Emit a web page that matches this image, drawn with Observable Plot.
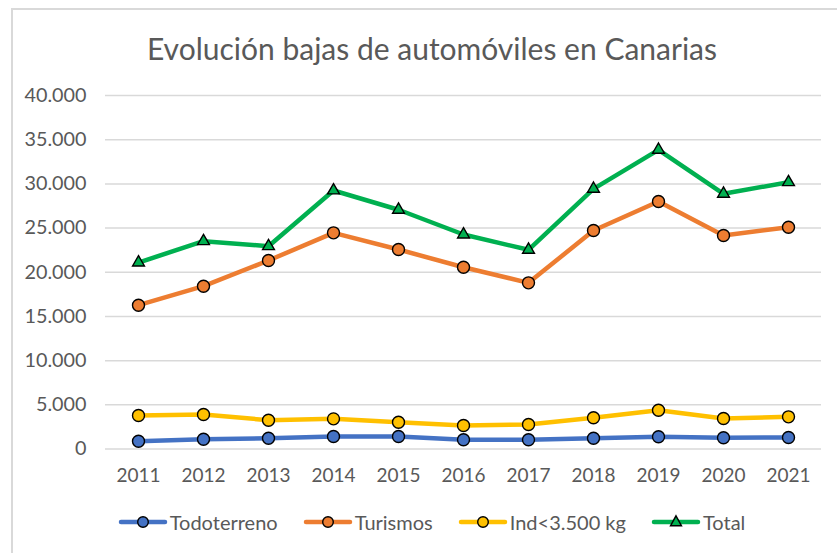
<!DOCTYPE html>
<html>
<head>
<meta charset="utf-8">
<script src="https://cdn.jsdelivr.net/npm/d3@7"></script>
<script src="https://cdn.jsdelivr.net/npm/@observablehq/plot@0.6"></script>
<style>
  body { margin: 0; background: #fff; }
  #wrap { position: relative; width: 837px; height: 553px; overflow: hidden; background: #fff; font-family: Lato, sans-serif; color: #595959; }
  #frame { position: absolute; left: 11px; top: 8px; width: 900px; height: 700px; border-top: 2px solid #d9d9d9; border-left: 2px solid #d9d9d9; }
  #title { position: absolute; left: 11px; width: 842px; top: 29px; text-align: center; font-size: 30px; line-height: 38px; }
  #chart { position: absolute; left: 0; top: 80px; }
  #legend { position: absolute; left: 11px; width: 842px; top: 510px; display: flex; justify-content: center; align-items: center; gap: 26px; font-size: 20px; }
  .item { display: flex; align-items: center; gap: 3px; }
</style>
</head>
<body>
<div id="wrap">
  <div id="frame"></div>
  <div id="title">Evolución bajas de automóviles en Canarias</div>
  <div id="chart"></div>
  <div id="legend"></div>
</div>
<script>
const years = ["2011","2012","2013","2014","2015","2016","2017","2018","2019","2020","2021"];
const seriesNames = ["Todoterreno", "Turismos", "Ind<3.500 kg", "Total"];
const todoterreno = [880, 1110, 1220, 1410, 1410, 1040, 1040, 1220, 1380, 1270, 1300];
const turismos = [16270, 18420, 21330, 24460, 22570, 20570, 18800, 24720, 28010, 24160, 25100];
const ind = [3790, 3900, 3260, 3410, 3030, 2660, 2770, 3530, 4390, 3450, 3640];
const total = [21100, 23510, 22950, 29250, 27070, 24270, 22540, 29440, 33850, 28880, 30190];
const yTicks = [0, 5000, 10000, 15000, 20000, 25000, 30000, 35000, 40000];
const yTickLabels = ["0", "5.000", "10.000", "15.000", "20.000", "25.000", "30.000", "35.000", "40.000"];
const colors = ["#4472C4", "#ED7D31", "#FFC000", "#00B050"];
const symbols = ["circle", "circle", "circle", "triangle"];

const valuesBySeries = [todoterreno, turismos, ind, total];
const data = [];
seriesNames.forEach((s, i) => {
  years.forEach((y, j) => data.push({series: s, year: y, value: valuesBySeries[i][j]}));
});

const marks = [
  Plot.ruleY(yTicks, {stroke: "#d9d9d9", strokeWidth: 1.5}),
  Plot.axisY({ticks: yTicks, tickSize: 0, tickPadding: 19, tickFormat: d => yTickLabels[yTicks.indexOf(d)], fontSize: 19.8, fill: "#595959", label: null}),
  Plot.axisX({tickSize: 0, tickPadding: 19, fontSize: 19, fill: "#595959", label: null})
];
seriesNames.forEach((s, i) => {
  const rows = data.filter(d => d.series === s);
  marks.push(Plot.line(rows, {x: "year", y: "value", stroke: colors[i], strokeWidth: 4.5, strokeLinejoin: "round", strokeLinecap: "round"}));
  marks.push(Plot.dot(rows, {x: "year", y: "value", fill: colors[i], stroke: "#000", strokeWidth: 1.4, symbol: symbols[i], r: symbols[i] === "triangle" ? 4.4 : 6}));
});

const chart = Plot.plot({
  width: 837,
  height: 420,
  marginLeft: 105,
  marginRight: 16,
  marginTop: 15,
  marginBottom: 51.5,
  style: {fontFamily: "Lato, sans-serif", color: "#595959", background: "transparent", overflow: "visible"},
  x: {type: "point", domain: years, padding: 0.5},
  y: {domain: [0, 40000]},
  marks
});
document.getElementById("chart").appendChild(chart);

const legend = document.getElementById("legend");
seriesNames.forEach((s, i) => {
  const item = document.createElement("div");
  item.className = "item";
  const sym = symbols[i] === "triangle"
    ? `<path d="M24,0.8 L29.5,10.8 L18.5,10.8 Z" fill="${colors[i]}" stroke="#000" stroke-width="1.4"/>`
    : `<circle cx="24" cy="7" r="5.3" fill="${colors[i]}" stroke="#000" stroke-width="1.4"/>`;
  item.innerHTML = `<svg width="48" height="14" style="overflow:visible"><line x1="2" y1="7" x2="46" y2="7" stroke="${colors[i]}" stroke-width="4.5" stroke-linecap="round"/>${sym}</svg><span>${s.replace("<", "&lt;")}</span>`;
  legend.appendChild(item);
});
</script>
</body>
</html>
